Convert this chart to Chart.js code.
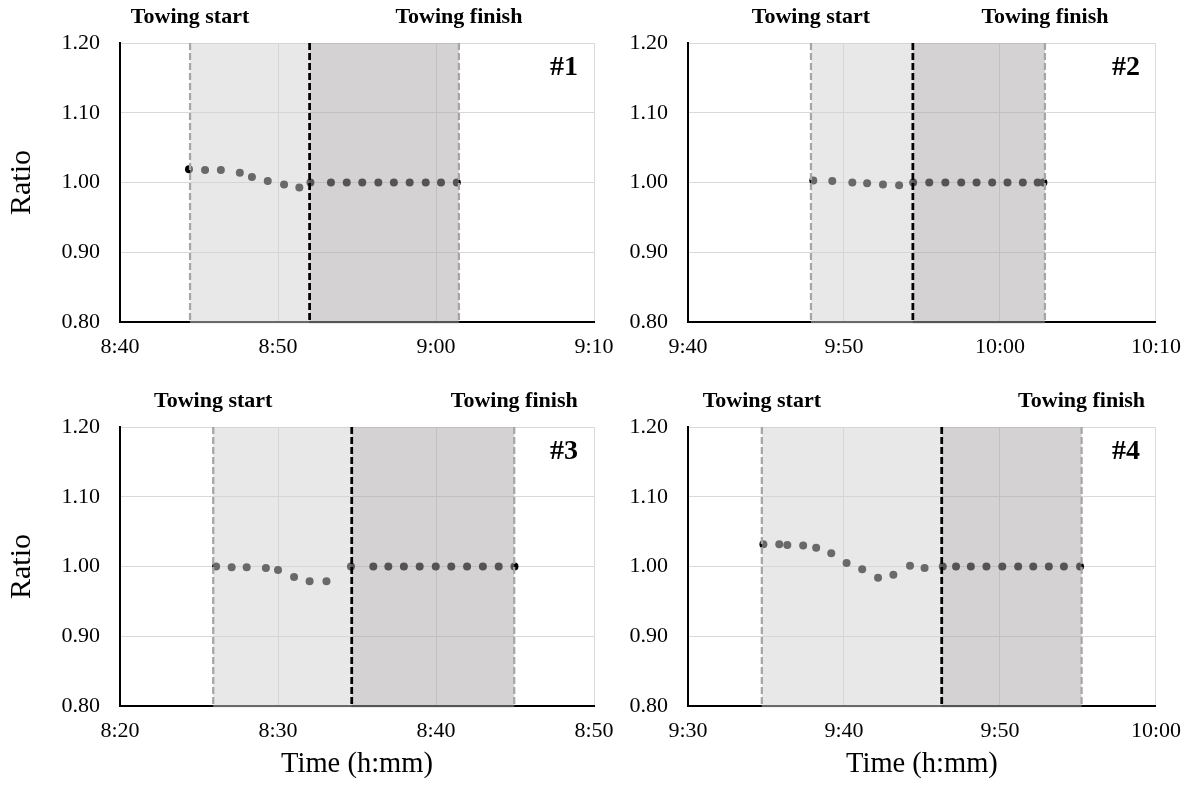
<!DOCTYPE html>
<html>
<head>
<meta charset="utf-8">
<title>Towing ratio</title>
<script src="https://cdn.jsdelivr.net/npm/chart.js@4.4.1/dist/chart.umd.min.js"></script>
<style>
    body { margin: 0; background: #fff; }
    #wrap { position: relative; width: 1193px; height: 785px; overflow: hidden; }
    #wrap canvas { position: absolute; }
</style>
</head>
<body>
<div id="wrap">
    <canvas id="c1" width="630" height="380" style="left:0;top:0"></canvas>
    <canvas id="c2" width="593" height="380" style="left:600px;top:0"></canvas>
    <canvas id="c3" width="630" height="405" style="left:0;top:380px"></canvas>
    <canvas id="c4" width="593" height="405" style="left:600px;top:380px"></canvas>
</div>
<script>
const SERIF = "'Liberation Serif', 'Times New Roman', serif";

const yTicks = ['0.80', '0.90', '1.00', '1.10', '1.20'];

// #1
const xTicks1 = ['8:40', '8:50', '9:00', '9:10'];
const time1 = ['8:44:22', '8:45:23', '8:46:23', '8:47:35', '8:48:21', '8:49:21', '8:50:23', '8:51:21',
    '8:52:03', '8:53:21', '8:54:21', '8:55:20', '8:56:21', '8:57:20', '8:58:20', '8:59:21', '9:00:19', '9:01:19'];
const ratio1 = [1.019, 1.018, 1.018, 1.014, 1.008, 1.002, 0.997, 0.993,
    1.000, 1.000, 1.000, 1.000, 1.000, 1.000, 1.000, 1.000, 1.000, 1.000];
const events1 = ['8:44:26', '8:52:00', '9:01:27']; // towing start, switch, towing finish

// #2
const xTicks2 = ['9:40', '9:50', '10:00', '10:10'];
const time2 = ['9:48:02', '9:49:15', '9:50:32', '9:51:29', '9:52:30', '9:53:32',
    '9:54:26', '9:55:28', '9:56:30', '9:57:31', '9:58:30', '9:59:30', '10:00:29', '10:01:28', '10:02:25', '10:02:47'];
const ratio2 = [1.003, 1.002, 1.000, 0.999, 0.997, 0.996,
    1.000, 1.000, 1.000, 1.000, 1.000, 1.000, 1.000, 1.000, 1.000, 1.000];
const events2 = ['9:47:53', '9:54:25', '10:02:53'];

// #3
const xTicks3 = ['8:20', '8:30', '8:40', '8:50'];
const time3 = ['8:26:05', '8:27:04', '8:28:01', '8:29:14', '8:30:00', '8:31:01', '8:32:00', '8:33:04',
    '8:34:37', '8:36:02', '8:36:59', '8:37:58', '8:38:58', '8:39:59', '8:40:58', '8:41:58', '8:42:58', '8:43:58', '8:44:58'];
const ratio3 = [1.000, 0.999, 0.999, 0.998, 0.995, 0.985, 0.979, 0.979,
    1.000, 1.000, 1.000, 1.000, 1.000, 1.000, 1.000, 1.000, 1.000, 1.000, 1.000];
const events3 = ['8:25:54', '8:34:40', '8:44:57'];

// #4
const xTicks4 = ['9:30', '9:40', '9:50', '10:00'];
const time4 = ['9:34:50', '9:35:51', '9:36:22', '9:37:23', '9:38:13', '9:39:11', '9:40:10', '9:41:10',
    '9:42:11', '9:43:10', '9:44:14', '9:45:10', '9:46:20', '9:47:11', '9:48:08', '9:49:08', '9:50:09',
    '9:51:10', '9:52:08', '9:53:08', '9:54:06', '9:55:08'];
const ratio4 = [1.032, 1.032, 1.031, 1.030, 1.027, 1.019, 1.005, 0.996, 0.984, 0.988, 1.001, 0.998,
    1.000, 1.000, 1.000, 1.000, 1.000, 1.000, 1.000, 1.000, 1.000, 1.000];
const events4 = ['9:34:44', '9:46:16', '9:55:14'];

function toMin(s) {
    const p = s.split(':').map(Number);
    return p[0] * 60 + p[1] + (p[2] || 0) / 60;
}

// shaded towing phases, dashed markers and labels, drawn over the points
const towingPlugin = {
    id: 'towing',
    afterDatasetsDraw(chart, args, opts) {
        const { ctx, chartArea: a, scales: { x } } = chart;
        const [xs, xw, xf] = opts.events.map(t => x.getPixelForValue(t));
        const h = a.bottom - a.top + 1.5;

        ctx.save();
        ctx.fillStyle = 'rgba(210, 210, 210, 0.5)';
        ctx.fillRect(xs, a.top, xw - xs, h);
        ctx.fillStyle = 'rgba(170, 166, 168, 0.5)';
        ctx.fillRect(xw, a.top, xf - xw, h);

        function dashed(px, color, width) {
            ctx.beginPath();
            ctx.setLineDash([7, 3]);
            ctx.strokeStyle = color;
            ctx.lineWidth = width;
            ctx.moveTo(px, a.top);
            ctx.lineTo(px, a.bottom);
            ctx.stroke();
        }
        dashed(xs, '#a6a6a6', 2.25);
        dashed(xf, '#a6a6a6', 2.25);
        dashed(xw, '#000', 2.75);

        ctx.fillStyle = '#000';
        ctx.textBaseline = 'middle';
        ctx.textAlign = 'center';
        ctx.font = 'bold 22px ' + SERIF;
        ctx.fillText('Towing start', xs, a.top - 25.5);
        ctx.fillText('Towing finish', xf, a.top - 25.5);

        ctx.textAlign = 'right';
        ctx.font = 'bold 28px ' + SERIF;
        ctx.fillText(opts.tag, a.right - 16, a.top + 25);
        ctx.restore();
    }
};

const panels = [
    { id: 'c1', tag: '#1', xTicks: xTicks1, time: time1, ratio: ratio1, events: events1, left: true, bottom: false },
    { id: 'c2', tag: '#2', xTicks: xTicks2, time: time2, ratio: ratio2, events: events2, left: false, bottom: false },
    { id: 'c3', tag: '#3', xTicks: xTicks3, time: time3, ratio: ratio3, events: events3, left: true, bottom: true },
    { id: 'c4', tag: '#4', xTicks: xTicks4, time: time4, ratio: ratio4, events: events4, left: false, bottom: true }
];

panels.forEach(function(p) {
    new Chart(document.getElementById(p.id), {
        type: 'scatter',
        data: {
            datasets: [{
                data: p.time.map((t, i) => ({ x: toMin(t), y: p.ratio[i] })),
                backgroundColor: '#000',
                pointRadius: 4,
                pointHoverRadius: 4,
                pointBorderWidth: 0
            }]
        },
        options: {
            responsive: false,
            animation: false,
            events: [],
            layout: { padding: { top: p.bottom ? 47 : 43, right: p.left ? 36 : 37, left: 0, bottom: 0 } },
            plugins: {
                legend: { display: false },
                tooltip: { enabled: false },
                towing: { events: p.events.map(toMin), tag: p.tag }
            },
            scales: {
                x: {
                    type: 'linear',
                    min: toMin(p.xTicks[0]),
                    max: toMin(p.xTicks[p.xTicks.length - 1]),
                    afterBuildTicks: ax => { ax.ticks = p.xTicks.map(t => ({ value: toMin(t) })); },
                    afterFit: ax => { ax.height = p.bottom ? 79 : 58; },
                    grid: { color: '#d9d9d9', lineWidth: 1, drawTicks: false },
                    border: { color: '#000', width: 2 },
                    ticks: {
                        padding: 12,
                        color: '#000',
                        maxRotation: 0,
                        autoSkip: false,
                        font: { family: SERIF, size: 22 },
                        callback: (v, i) => p.xTicks[i]
                    },
                    title: {
                        display: p.bottom,
                        text: 'Time (h:mm)',
                        color: '#000',
                        font: { family: SERIF, size: 28.5 },
                        padding: { top: 0, bottom: 3 }
                    }
                },
                y: {
                    min: 0.8,
                    max: 1.2,
                    afterBuildTicks: ax => { ax.ticks = yTicks.map(t => ({ value: parseFloat(t) })); },
                    afterFit: ax => { ax.width = p.left ? 120 : 88; },
                    grid: { color: '#d9d9d9', lineWidth: 1, drawTicks: false },
                    border: { color: '#000', width: 2 },
                    ticks: {
                        padding: 20,
                        color: '#000',
                        font: { family: SERIF, size: 22 },
                        callback: (v, i) => yTicks[i]
                    },
                    title: {
                        display: p.left,
                        text: 'Ratio',
                        color: '#000',
                        font: { family: SERIF, size: 30 },
                        padding: { top: 4, bottom: 0 }
                    }
                }
            }
        },
        plugins: [towingPlugin]
    });
});
</script>
</body>
</html>
